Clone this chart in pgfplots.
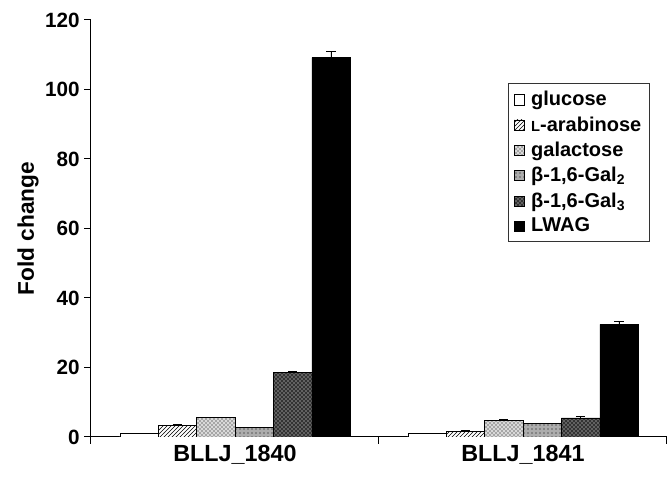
\documentclass[border=0pt]{standalone}
\usepackage{fontspec}
\setmainfont{Liberation Sans}
\usepackage{pgfplots}
\pgfplotsset{compat=1.18}
\usetikzlibrary{patterns}

\pgfplotsset{
  sq/.style={legend image code/.code={\draw[##1,line width=0.4pt] (0pt,-3.8pt) rectangle (7.6pt,3.8pt);}},
}

\begin{document}
\begin{tikzpicture}
\begin{axis}[
  at={(0,0)}, anchor=south west,
  scale only axis,
  width=432pt, height=312.75pt,
  xmin=0, xmax=2, ymin=0, ymax=120,
  axis x line*=bottom, axis y line*=left,
  axis line style={line width=0.75pt, -},
  ybar=0pt, bar width=0.1333,
  tick align=outside,
  major tick length=5pt,
  tick style={line width=0.75pt, black},
  ytick={0,20,...,120},
  xtick={0,1,2}, xticklabels={},
  extra x ticks={0.5,1.5},
  extra x tick labels={BLLJ\_1840,BLLJ\_1841},
  extra x tick style={major tick length=0pt,
    xticklabel style={font=\bfseries\fontsize{17.5}{20}\selectfont, yshift=-3pt}},
  yticklabel style={font=\bfseries\fontsize{15.5}{18}\selectfont},
  /pgf/number format/assume math mode=true,
  ylabel={Fold change},
  ylabel style={font=\bfseries\fontsize{17}{20}\selectfont, yshift=-2pt},
  legend style={at={(0.724,0.849)}, anchor=north west,
    draw=black!80, line width=0.75pt,
    font=\bfseries\fontsize{15}{18}\selectfont,
    row sep=2.6pt, column sep=3pt, inner xsep=4pt, inner ysep=4pt,
    legend cell align=left},
  error bars/y dir=plus, error bars/y explicit,
  error bars/error bar style={line width=0.6pt, black},
  error bars/error mark options={rotate=90, mark size=3.5pt, line width=0.6pt},
]
% columns: x (0.5 = BLLJ_1840, 1.5 = BLLJ_1841), value, error
\addplot[draw=black, line width=0.4pt, fill=white, sq]
  table[row sep=\\, y error=e] {x y e\\ 0.5 1.0 0.05\\ 1.5 1.0 0.05\\};
\addplot[draw=black, line width=0.4pt, fill=white,
  postaction={pattern=north east lines}, sq]
  table[row sep=\\, y error=e] {x y e\\ 0.5 3.4 0.1\\ 1.5 1.7 0.1\\};
\addplot[draw=black, line width=0.4pt, fill=gray!30,
  postaction={pattern=crosshatch dots}, sq]
  table[row sep=\\, y error=e] {x y e\\ 0.5 5.6 0.15\\ 1.5 4.8 0.2\\};
\addplot[draw=black, line width=0.4pt, fill=gray!65,
  postaction={pattern=dots}, sq]
  table[row sep=\\, y error=e] {x y e\\ 0.5 2.7 0.1\\ 1.5 3.9 0.1\\};
\addplot[draw=black, line width=0.4pt, fill=black!80,
  postaction={pattern=crosshatch dots, pattern color=white}, sq]
  table[row sep=\\, y error=e] {x y e\\ 0.5 18.7 0.3\\ 1.5 5.5 0.3\\};
\addplot[draw=black, line width=0.4pt, fill=black, sq]
  table[row sep=\\, y error=e] {x y e\\ 0.5 109.2 1.8\\ 1.5 32.4 1.0\\};
\legend{glucose, {\fontsize{11}{12}\selectfont L}-arabinose, galactose,
  {β-1,6-Gal\textsubscript{2}}, {β-1,6-Gal\textsubscript{3}}, LWAG}
\end{axis}
\path[use as bounding box] (-68.25pt,-30pt) rectangle (435.75pt,327.75pt);
\end{tikzpicture}
\end{document}
